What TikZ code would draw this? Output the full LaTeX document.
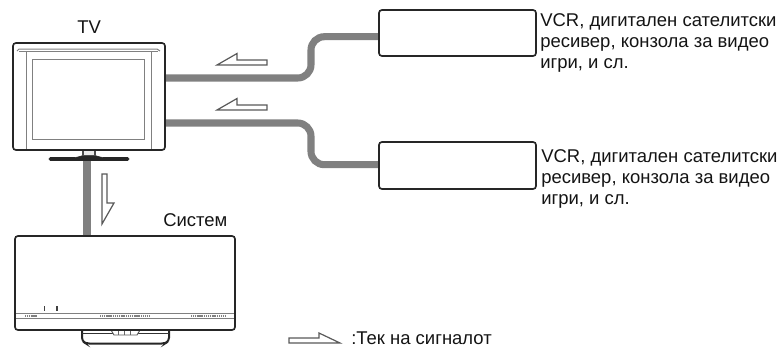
\documentclass[tikz,border=0pt]{standalone}
\usepackage{fontspec}
\setmainfont{Liberation Sans}
\begin{document}
\begin{tikzpicture}[x=0.75pt,y=-0.75pt,
  outline/.style={draw=black!85,line width=1.25pt,rounded corners=2.2pt,fill=white,inner sep=0pt},
  thinline/.style={draw=black!50,line width=0.75pt},
  cable/.style={draw=black!50,line width=5.3pt,rounded corners=10pt},
  flow/.style={draw=black!65,line width=0.9pt,fill=white,line join=miter},
  dotted strip/.style={draw=black!50,line width=1.3pt,dash pattern=on 0.9pt off 0.5pt},
  label/.style={font=\fontsize{13.85pt}{15.7pt}\selectfont,inner sep=0pt,align=left,text=black!92}]
\useasboundingbox (0,0) rectangle (780,347);
% named ends for connectors
\coordinate (tvA) at (160,78);
\coordinate (tvB) at (160,123);
\coordinate (tvC) at (87,155);
\coordinate (bendA1) at (311,78);
\coordinate (bendA2) at (311,36.7);
\coordinate (bendB1) at (311,123);
\coordinate (bendB2) at (311,164.7);
\coordinate (endA) at (382,36.7);
\coordinate (endB) at (382,164.7);
\coordinate (endC) at (87,240);
% cables
\draw[cable] (tvA) -- (bendA1) -- (bendA2) -- (endA);
\draw[cable] (tvB) -- (bendB1) -- (bendB2) -- (endB);
\draw[cable,rounded corners=0pt] (tvC) -- (endC);
% devices
\node[outline,minimum width=117.75pt,minimum height=34.5pt] (boxA) at (457.5,33) {};
\node[outline,minimum width=117.75pt,minimum height=35.25pt] (boxB) at (457.5,165.5) {};
% TV stand
\draw[black!85,line width=0.4pt,fill=black!85,rounded corners=1pt] (49,157.5) -- (76,157.5) -- (83,155.5) -- (95,155.5) -- (102,157.5) -- (129,157.5) -- (129,160.5) -- (49,160.5) -- cycle;
\draw[draw=black!70,line width=0.9pt,fill=black!8] (83,150) rectangle (95,155.5);
% TV
\node[outline,minimum width=114pt,minimum height=80.25pt] (tv) at (89,96.5) {};
\draw[thinline] (26,51) -- (26,149) (151,51) -- (151,149);
\draw[thinline] (17,51) -- (19,49) -- (157,49) -- (160,51);
\draw[thinline] (19,51) -- (158,51);
\draw[thinline] (32,59) rectangle (144,139);
% system stand
\draw[black!85,line width=1.5pt,rounded corners=2.5pt,fill=white] (82,331) -- (82,341) -- (86,343.5) -- (165,343.5) -- (169,341) -- (169,331);
\draw[black!80,line width=1pt] (82,333.5) -- (169,333.5);
\draw[black!65,line width=0.7pt,fill=white] (111,330) -- (114,335) -- (137,335) -- (140,330) -- cycle;
\draw[black!60,line width=0.7pt] (118,331) -- (118,335) (124,331) -- (124,335) (130,331) -- (130,335);
% system
\node[outline,minimum width=165pt,minimum height=70.5pt] (sys) at (125,283) {};
\draw[thinline] (16,313.5) -- (234,313.5) (16,318) -- (234,318);
\draw[dotted strip] (25,316) -- (37,316) (100,316) -- (150,316) (191,316) -- (226,316);
\draw[black!75,line width=1.4pt] (44.5,306) -- (44.5,311) (57,306) -- (57,311);
% flow arrows
\draw[flow] (217,65) -- (237,53.5) -- (237,60) -- (267,60) -- (267,65) -- cycle;
\draw[flow] (217,110) -- (237,98.5) -- (237,105) -- (267,105) -- (267,110) -- cycle;
\draw[flow] (102,174) -- (107,174) -- (107,203) -- (114,203) -- (102,224) -- cycle;
\draw[flow] (289,338) -- (319,338) -- (319,333) -- (340,343) -- (289,343) -- cycle;
% labels
\node[label,anchor=base west] (tvLabel) at (77,33) {TV};
\node[label,anchor=base west] (sysLabel) at (163,226) {Систем};
\node[label,anchor=north west] (textA) at (540,13.5) {VCR, дигитален сателитски\\ресивер, конзола за видео\\игри, и сл.};
\node[label,anchor=north west] (textB) at (541,149.5) {VCR, дигитален сателитски\\ресивер, конзола за видео\\игри, и сл.};
\node[label,anchor=base west] (legend) at (351,344.5) {:Тек на сигналот};
\end{tikzpicture}
\end{document}
